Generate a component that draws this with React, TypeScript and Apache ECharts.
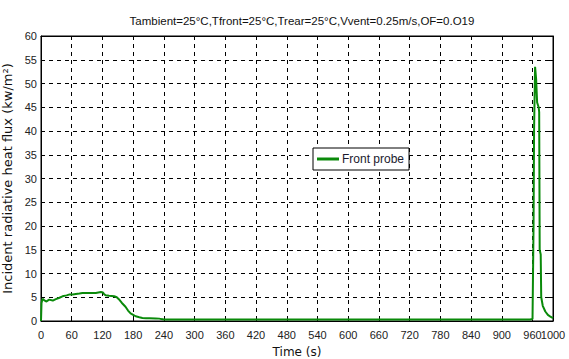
import React, { useEffect, useRef } from "react";
import * as echarts from "echarts";

const titleText = "Tambient=25°C,Tfront=25°C,Trear=25°C,Vvent=0.25m/s,OF=0.O19";
const xName = "Time (s)";
const yName = "Incident radiative heat flux (kw/m²)";
const seriesName = "Front probe";

const times = [
  0, 1, 3, 6, 10, 16, 23, 29, 36, 42, 50, 56, 62, 68, 75, 81, 90, 100, 107, 112, 117, 121, 123, 126,
  133, 143, 148, 152, 158, 165, 170, 175, 180, 185, 192, 198, 205, 212, 224, 231, 235, 240, 300, 400,
  500, 600, 700, 800, 900, 955, 960, 962, 963, 965, 967, 969, 972, 973, 974, 976, 977, 980, 985, 990,
  995, 1000,
];
const flux = [
  0, 3.8, 4.7, 4.4, 4.1, 4.5, 4.3, 4.6, 4.9, 5.2, 5.4, 5.6, 5.6, 5.7, 5.8, 5.9, 5.9, 5.9, 5.9, 6.0, 6.1,
  6.0, 5.7, 5.4, 5.3, 5.2, 5.0, 4.6, 3.8, 3.0, 2.2, 1.6, 1.3, 1.0, 0.8, 0.65, 0.6, 0.6, 0.55, 0.5, 0.4,
  0.3, 0.3, 0.3, 0.3, 0.3, 0.3, 0.3, 0.3, 0.3, 0.4, 20, 40, 53.5, 51, 46, 45, 44, 15, 14, 5, 3.2, 2.0,
  1.3, 0.9, 0.6,
];
const xTicks = [0, 60, 120, 180, 240, 300, 360, 420, 480, 540, 600, 660, 720, 780, 840, 900, 960];
const xEndTick = [1000];
const xMax = 1000;
const yMax = 60;
const yTickInterval = 5;

const font = "Liberation Sans, Arial, sans-serif";
const nameFont = "DejaVu Sans, sans-serif";

export default function App() {
  const ref = useRef<HTMLDivElement>(null);
  useEffect(() => {
    if (!ref.current) return;
    const chart = echarts.init(ref.current, undefined, { renderer: "svg" });
    const data = times.map((t, i) => [t, flux[i]]);
    const gridRect = { left: 41, right: 16, top: 36, bottom: 38, containLabel: false, outerBoundsMode: "none" };
    const labelStyle = { fontFamily: font, fontSize: 11, color: "#222" };
    const tick = { show: true, inside: true, length: 4, lineStyle: { color: "#000" } };
    chart.setOption({
      animation: false,
      backgroundColor: "#fff",
      title: {
        text: titleText,
        left: 297,
        textAlign: "center",
        top: 10,
        textStyle: { fontFamily: font, fontSize: 11.5, fontWeight: "normal", color: "#111" },
      },
      legend: {
        left: 313,
        top: 148,
        orient: "horizontal",
        backgroundColor: "#fff",
        borderColor: "#000",
        borderWidth: 1,
        borderRadius: 0,
        padding: [5, 5, 5, 4],
        itemWidth: 22,
        itemHeight: 3,
        itemGap: 4,
        icon: "rect",
        textStyle: { fontFamily: font, fontSize: 12, color: "#1a1a2e", padding: [0, 0, 0, -2] },
        data: [seriesName],
      },
      grid: [
        { ...gridRect, show: true, borderColor: "#000", borderWidth: 1, backgroundColor: "transparent" },
        { ...gridRect },
      ],
      xAxis: [
        {
          type: "value",
          gridIndex: 0,
          min: 0,
          max: xMax,
          name: xName,
          nameLocation: "middle",
          nameGap: 25,
          nameTextStyle: { fontFamily: nameFont, fontSize: 12, color: "#111" },
          axisLine: { show: true, onZero: false, lineStyle: { color: "#000", width: 1 } },
          axisTick: { ...tick, customValues: xTicks },
          axisLabel: { ...labelStyle, margin: 8, customValues: xTicks, formatter: (v: number) => String(v) },
          splitLine: { show: true, lineStyle: { color: "#000", type: [4, 4], width: 1 } },
        },
        {
          type: "value",
          gridIndex: 0,
          position: "top",
          min: 0,
          max: xMax,
          axisLine: { show: true, onZero: false, lineStyle: { color: "#000", width: 1 } },
          axisTick: { ...tick, customValues: xTicks },
          axisLabel: { show: false },
          splitLine: { show: false },
        },
        {
          type: "value",
          gridIndex: 1,
          position: "bottom",
          min: 0,
          max: xMax,
          axisLine: { show: false, onZero: false },
          axisTick: { show: false, customValues: xEndTick },
          axisLabel: { ...labelStyle, margin: 8, customValues: xEndTick, formatter: (v: number) => String(v) },
          splitLine: { show: false },
        },
      ],
      yAxis: [
        {
          type: "value",
          gridIndex: 0,
          min: 0,
          max: yMax,
          interval: yTickInterval,
          name: yName,
          nameLocation: "middle",
          nameGap: 24,
          nameTextStyle: { fontFamily: nameFont, fontSize: 13, color: "#111" },
          axisLine: { show: true, onZero: false, lineStyle: { color: "#000", width: 1 } },
          axisTick: tick,
          axisLabel: { ...labelStyle, margin: 4 },
          splitLine: { show: true, lineStyle: { color: "#000", type: [4, 4], width: 1 } },
        },
        {
          type: "value",
          gridIndex: 0,
          position: "right",
          min: 0,
          max: yMax,
          interval: yTickInterval,
          axisLine: { show: true, onZero: false, lineStyle: { color: "#000", width: 1 } },
          axisTick: tick,
          axisLabel: { show: false },
          splitLine: { show: false },
        },
        {
          type: "value",
          gridIndex: 1,
          min: 0,
          max: yMax,
          show: false,
        },
      ],
      series: [
        {
          name: seriesName,
          type: "line",
          xAxisIndex: 0,
          yAxisIndex: 0,
          data,
          symbol: "none",
          showSymbol: false,
          lineStyle: { color: "#0a8a0a", width: 2 },
          itemStyle: { color: "#0a8a0a" },
          z: 5,
        },
      ],
    });
    return () => chart.dispose();
  }, []);
  return <div ref={ref} style={{ width: 569, height: 359, position: "absolute", left: 0, top: 0 }} />;
}
